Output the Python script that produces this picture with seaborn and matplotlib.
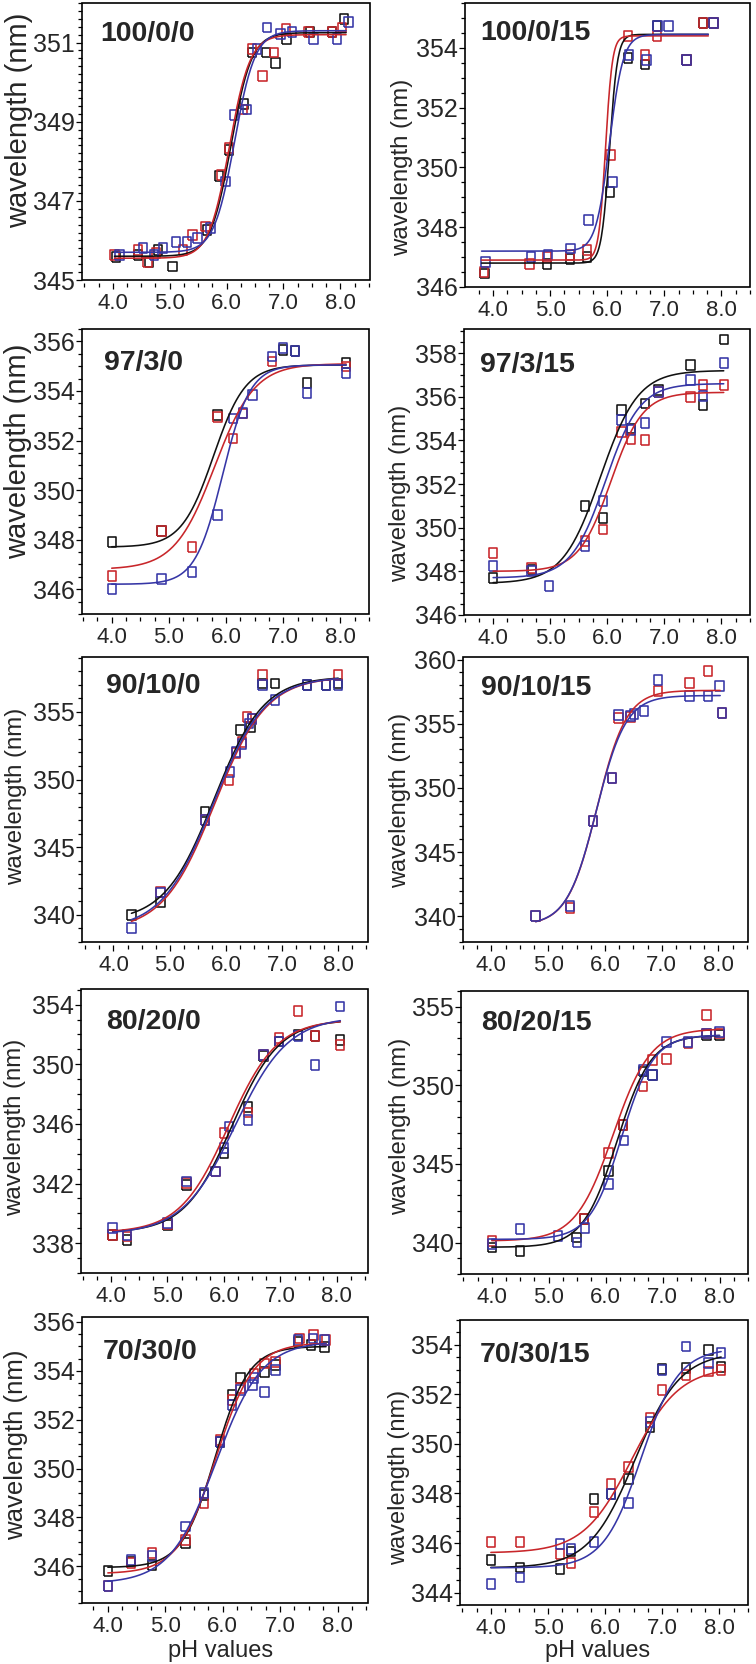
import numpy as np
import seaborn as sns
import matplotlib.pyplot as plt
from matplotlib.patches import Rectangle
from matplotlib.ticker import MultipleLocator, FormatStrFormatter

# ---- data (pH, emission maximum in nm) ----
# fit parameters per series: (bottom, top, pKa, slope)

# 100/0/0
p100_0_0_k_ph = [4.06, 4.44, 4.64, 4.79, 5.05, 5.66, 5.87, 6.04, 6.31, 6.45, 6.69, 6.86, 7.05, 7.47, 7.85, 8.06]
p100_0_0_k_nm = [345.59, 345.63, 345.46, 345.76, 345.34, 346.27, 347.62, 348.28, 349.44, 350.75, 350.75, 350.49, 351.09, 351.26, 351.26, 351.60]
p100_0_0_r_ph = [4.03, 4.44, 4.61, 4.76, 5.23, 5.40, 5.63, 5.90, 6.04, 6.28, 6.45, 6.63, 6.83, 7.04, 7.44, 7.85, 8.03]
p100_0_0_r_nm = [345.63, 345.76, 345.46, 345.68, 345.76, 346.14, 346.35, 347.66, 348.34, 349.31, 350.83, 350.16, 350.75, 351.34, 351.26, 351.26, 351.38]
p100_0_0_b_ph = [4.12, 4.53, 4.73, 4.88, 5.11, 5.31, 5.49, 5.72, 5.98, 6.13, 6.36, 6.54, 6.71, 6.95, 7.15, 7.53, 7.94, 8.14]
p100_0_0_b_nm = [345.63, 345.80, 345.63, 345.80, 345.97, 345.97, 346.06, 346.31, 347.49, 349.18, 349.31, 350.83, 351.38, 351.21, 351.26, 351.09, 351.09, 351.51]
p100_0_0_fit = [(345.6, 351.25, 6.08, 0.18), (345.55, 351.2, 6.05, 0.18), (345.7, 351.3, 6.14, 0.18)]
p100_0_0_span = (4.03, 8.10)

# 100/0/15
p100_0_15_k_ph = [3.85, 4.95, 5.35, 5.65, 6.05, 6.36, 6.66, 6.87, 7.39, 7.68, 7.86]
p100_0_15_k_nm = [346.45, 346.78, 346.95, 347.00, 349.19, 353.66, 353.44, 354.72, 353.60, 354.84, 354.84]
p100_0_15_r_ph = [3.84, 4.64, 4.95, 5.35, 5.65, 6.06, 6.36, 6.66, 6.87, 7.39, 7.68, 7.86]
p100_0_15_r_nm = [346.50, 346.78, 347.00, 347.06, 347.23, 350.42, 354.39, 353.77, 354.39, 353.60, 354.84, 354.84]
p100_0_15_b_ph = [3.87, 4.66, 4.96, 5.36, 5.67, 6.09, 6.38, 6.69, 6.88, 7.07, 7.39, 7.86]
p100_0_15_b_nm = [346.84, 347.00, 347.06, 347.29, 348.24, 349.52, 353.77, 353.60, 354.72, 354.72, 353.60, 354.84]
p100_0_15_fit = [(346.8, 354.45, 6.04, 0.07), (346.9, 354.4, 5.97, 0.06), (347.2, 354.45, 6.04, 0.12)]
p100_0_15_span = (3.80, 7.77)

# 97/3/0
p97_3_0_k_ph = [4.00, 4.87, 5.85, 7.00, 7.20, 7.41, 8.10]
p97_3_0_k_nm = [347.89, 348.34, 353.03, 355.66, 355.60, 354.31, 355.12]
p97_3_0_r_ph = [4.00, 4.87, 5.40, 5.85, 6.12, 6.30, 6.80, 8.10]
p97_3_0_r_nm = [346.54, 348.34, 347.69, 352.96, 352.08, 353.09, 355.19, 354.99]
p97_3_0_b_ph = [4.00, 4.87, 5.40, 5.85, 6.12, 6.30, 6.46, 6.80, 7.00, 7.20, 7.41, 8.10]
p97_3_0_b_nm = [346.00, 346.41, 346.68, 349.01, 352.89, 353.12, 353.84, 355.39, 355.73, 355.60, 353.93, 354.74]
p97_3_0_fit = [(347.7, 355.05, 5.78, 0.28), (346.8, 355.1, 5.80, 0.35), (346.2, 355.05, 5.94, 0.24)]
p97_3_0_span = (4.00, 8.10)

# 97/3/15
p97_3_15_k_ph = [4.00, 4.68, 5.61, 5.92, 6.25, 6.42, 6.66, 6.90, 7.46, 7.68, 8.04]
p97_3_15_k_nm = [347.69, 348.08, 351.00, 350.46, 355.38, 354.54, 355.69, 356.31, 357.46, 355.62, 358.62]
p97_3_15_r_ph = [4.00, 4.67, 5.61, 5.92, 6.25, 6.42, 6.66, 6.90, 7.46, 7.68, 8.04]
p97_3_15_r_nm = [348.85, 348.15, 349.38, 349.92, 354.38, 354.08, 354.00, 356.23, 356.00, 356.54, 356.54]
p97_3_15_b_ph = [4.00, 4.67, 4.98, 5.61, 5.92, 6.25, 6.42, 6.66, 6.90, 7.46, 7.68, 8.04]
p97_3_15_b_nm = [348.23, 348.03, 347.31, 349.15, 351.23, 354.92, 354.46, 354.80, 356.23, 356.77, 356.03, 357.54]
p97_3_15_fit = [(347.45, 357.2, 5.88, 0.33), (348.0, 356.2, 6.06, 0.28), (347.7, 356.6, 5.97, 0.30)]
p97_3_15_span = (4.00, 8.04)

# 90/10/0
p90_10_0_k_ph = [4.32, 4.84, 5.63, 6.26, 6.44, 6.65, 6.88, 7.44, 7.78, 8.00]
p90_10_0_k_nm = [340.00, 340.98, 347.62, 353.65, 353.90, 357.09, 357.09, 356.97, 356.97, 357.09]
p90_10_0_r_ph = [4.84, 5.63, 6.06, 6.18, 6.29, 6.38, 6.47, 6.65, 8.00]
p90_10_0_r_nm = [341.72, 347.00, 349.96, 351.93, 352.79, 354.63, 354.50, 357.70, 357.70]
p90_10_0_b_ph = [4.32, 4.84, 5.63, 6.07, 6.18, 6.29, 6.41, 6.47, 6.65, 6.88, 7.44, 7.78, 8.00]
p90_10_0_b_nm = [339.02, 341.65, 347.00, 350.57, 352.05, 352.61, 354.14, 354.50, 356.97, 355.86, 356.97, 356.97, 356.97]
p90_10_0_fit = [(339.5, 357.6, 5.79, 0.44), (338.8, 357.6, 5.80, 0.46), (338.9, 357.6, 5.78, 0.46)]
p90_10_0_span = (4.32, 8.00)

# 90/10/15 (no black series)
p90_10_15_k_ph = []
p90_10_15_k_nm = []
p90_10_15_r_ph = [4.78, 5.39, 5.79, 6.13, 6.24, 6.45, 6.94, 7.49, 7.82, 8.06]
p90_10_15_r_nm = [340.00, 340.65, 347.40, 350.78, 355.45, 355.50, 357.53, 358.18, 359.09, 355.84]
p90_10_15_b_ph = [4.78, 5.39, 5.79, 6.13, 6.24, 6.45, 6.51, 6.69, 6.94, 7.49, 7.82, 8.02, 8.06]
p90_10_15_b_nm = [340.00, 340.78, 347.40, 350.78, 355.66, 355.58, 355.77, 355.97, 358.44, 357.14, 357.14, 357.92, 355.84]
p90_10_15_fit = [None, (339.3, 357.6, 5.86, 0.26), (339.3, 357.2, 5.85, 0.26)]
p90_10_15_span = (4.78, 8.03)

# 80/20/0
p80_20_0_k_ph = [4.03, 4.28, 5.00, 5.34, 6.00, 6.43, 6.70, 6.98, 7.31, 7.61, 8.06]
p80_20_0_k_nm = [338.56, 338.22, 339.23, 341.92, 344.04, 347.13, 350.57, 351.53, 351.98, 351.87, 351.65]
p80_20_0_r_ph = [4.03, 4.28, 5.00, 5.34, 5.85, 6.00, 6.43, 6.70, 6.98, 7.31, 7.61, 8.06]
p80_20_0_r_nm = [338.56, 338.45, 339.30, 342.03, 342.81, 345.38, 346.77, 350.64, 351.76, 353.55, 351.87, 351.31]
p80_20_0_b_ph = [4.03, 4.28, 5.00, 5.34, 5.85, 6.00, 6.09, 6.43, 6.70, 6.98, 7.31, 7.61, 8.06]
p80_20_0_b_nm = [339.01, 338.56, 339.34, 342.14, 342.81, 344.38, 345.83, 346.28, 350.64, 351.53, 351.87, 349.97, 353.88]
p80_20_0_fit = [(338.7, 353.0, 6.14, 0.42), (338.7, 353.0, 6.08, 0.43), (338.6, 353.2, 6.20, 0.47)]
p80_20_0_span = (4.03, 8.06)

# 80/20/15
p80_20_15_k_ph = [4.00, 4.50, 5.49, 5.62, 6.05, 6.31, 6.66, 6.82, 7.77, 8.00]
p80_20_15_k_nm = [339.68, 339.47, 340.32, 341.48, 344.54, 347.50, 350.88, 350.67, 353.20, 353.20]
p80_20_15_r_ph = [4.00, 5.62, 6.05, 6.31, 6.66, 6.82, 7.07, 7.45, 7.77, 7.77, 8.00]
p80_20_15_r_nm = [340.11, 341.48, 345.70, 347.50, 349.93, 351.62, 351.68, 352.68, 354.47, 353.30, 353.30]
p80_20_15_b_ph = [4.00, 4.50, 5.16, 5.50, 5.64, 6.05, 6.32, 6.66, 6.82, 7.07, 7.45, 7.77, 8.00]
p80_20_15_b_nm = [339.89, 340.85, 340.42, 340.00, 340.95, 343.70, 346.49, 350.99, 350.67, 352.78, 352.78, 353.30, 353.37]
p80_20_15_fit = [(339.7, 353.2, 6.20, 0.30), (340.1, 353.6, 6.13, 0.33), (340.2, 353.2, 6.28, 0.28)]
p80_20_15_span = (4.00, 8.00)

# 70/30/0
p70_30_0_k_ph = [4.00, 4.40, 4.77, 5.35, 5.67, 5.95, 6.16, 6.31, 6.73, 6.92, 7.31, 7.54, 7.77]
p70_30_0_k_nm = [345.80, 346.20, 346.07, 346.95, 348.93, 351.10, 353.00, 353.69, 353.96, 354.23, 355.18, 355.05, 354.98]
p70_30_0_r_ph = [4.00, 4.40, 4.77, 5.35, 5.67, 5.95, 6.16, 6.31, 6.54, 6.73, 6.92, 7.34, 7.58, 7.80]
p70_30_0_r_nm = [345.18, 346.14, 346.54, 347.09, 348.59, 351.17, 352.80, 353.28, 353.89, 354.30, 354.37, 355.32, 355.46, 355.25]
p70_30_0_b_ph = [4.00, 4.40, 4.77, 5.35, 5.67, 5.95, 6.16, 6.31, 6.52, 6.54, 6.73, 6.92, 7.31, 7.57, 7.77]
p70_30_0_b_nm = [345.18, 346.27, 346.41, 347.63, 349.00, 351.10, 352.60, 353.21, 353.41, 353.69, 353.14, 354.03, 355.25, 355.32, 355.25]
p70_30_0_fit = [(345.95, 355.0, 5.87, 0.29), (345.7, 355.15, 5.88, 0.33), (345.3, 355.2, 5.88, 0.40)]
p70_30_0_span = (4.00, 7.80)

# 70/30/15
p70_30_15_k_ph = [4.00, 4.51, 5.21, 5.40, 5.80, 6.10, 6.41, 6.79, 7.00, 7.42, 7.81, 8.03]
p70_30_15_k_nm = [345.31, 345.01, 344.95, 345.66, 347.78, 347.99, 348.59, 350.69, 353.01, 353.05, 353.80, 353.12]
p70_30_15_r_ph = [4.00, 4.51, 5.21, 5.40, 5.80, 6.10, 6.41, 6.79, 7.00, 7.42, 7.81, 8.03]
p70_30_15_r_nm = [346.03, 346.03, 345.55, 345.18, 347.24, 348.39, 349.07, 351.03, 352.18, 352.78, 352.92, 352.99]
p70_30_15_b_ph = [4.00, 4.51, 5.21, 5.40, 5.80, 6.10, 6.41, 6.79, 7.00, 7.42, 7.81, 8.03]
p70_30_15_b_nm = [344.34, 344.61, 345.96, 345.76, 346.03, 347.99, 347.61, 350.89, 352.99, 353.93, 353.26, 353.66]
p70_30_15_fit = [(345.0, 353.7, 6.52, 0.40), (345.6, 353.1, 6.46, 0.42), (345.0, 353.85, 6.63, 0.33)]
p70_30_15_span = (4.00, 8.03)

titles = ["100/0/0", "100/0/15", "97/3/0", "97/3/15", "90/10/0",
          "90/10/15", "80/20/0", "80/20/15", "70/30/0", "70/30/15"]
colors = ["#111111", "#c8262a", "#3636a6"]

panels = [
    ([(p100_0_0_k_ph, p100_0_0_k_nm), (p100_0_0_r_ph, p100_0_0_r_nm), (p100_0_0_b_ph, p100_0_0_b_nm)], p100_0_0_fit, p100_0_0_span),
    ([(p100_0_15_k_ph, p100_0_15_k_nm), (p100_0_15_r_ph, p100_0_15_r_nm), (p100_0_15_b_ph, p100_0_15_b_nm)], p100_0_15_fit, p100_0_15_span),
    ([(p97_3_0_k_ph, p97_3_0_k_nm), (p97_3_0_r_ph, p97_3_0_r_nm), (p97_3_0_b_ph, p97_3_0_b_nm)], p97_3_0_fit, p97_3_0_span),
    ([(p97_3_15_k_ph, p97_3_15_k_nm), (p97_3_15_r_ph, p97_3_15_r_nm), (p97_3_15_b_ph, p97_3_15_b_nm)], p97_3_15_fit, p97_3_15_span),
    ([(p90_10_0_k_ph, p90_10_0_k_nm), (p90_10_0_r_ph, p90_10_0_r_nm), (p90_10_0_b_ph, p90_10_0_b_nm)], p90_10_0_fit, p90_10_0_span),
    ([(p90_10_15_k_ph, p90_10_15_k_nm), (p90_10_15_r_ph, p90_10_15_r_nm), (p90_10_15_b_ph, p90_10_15_b_nm)], p90_10_15_fit, p90_10_15_span),
    ([(p80_20_0_k_ph, p80_20_0_k_nm), (p80_20_0_r_ph, p80_20_0_r_nm), (p80_20_0_b_ph, p80_20_0_b_nm)], p80_20_0_fit, p80_20_0_span),
    ([(p80_20_15_k_ph, p80_20_15_k_nm), (p80_20_15_r_ph, p80_20_15_r_nm), (p80_20_15_b_ph, p80_20_15_b_nm)], p80_20_15_fit, p80_20_15_span),
    ([(p70_30_0_k_ph, p70_30_0_k_nm), (p70_30_0_r_ph, p70_30_0_r_nm), (p70_30_0_b_ph, p70_30_0_b_nm)], p70_30_0_fit, p70_30_0_span),
    ([(p70_30_15_k_ph, p70_30_15_k_nm), (p70_30_15_r_ph, p70_30_15_r_nm), (p70_30_15_b_ph, p70_30_15_b_nm)], p70_30_15_fit, p70_30_15_span),
]

# ---- layout (pixel boxes of the original composite) ----
W, H = 756, 1664
# box (L, T, R, B), xlim, ylim, (major, offset, minor), title xy, ylabel xy, ylabel size
layout = [
    ((82, 3, 370, 280), (3.46, 8.52), (345.0, 352.0), (2, 1, 0.2), (100, 34), (19, 120), 21),
    ((465, 3, 750, 287), (3.51, 8.50), (346.0, 355.5), (2, 0, 0.5), (480, 33), (402, 167), 17.3),
    ((82, 329, 369, 614), (3.48, 8.50), (345.0, 356.5), (2, 0, 0.5), (104, 363), (18, 451), 21),
    ((464, 329, 750, 615), (3.49, 8.50), (346.0, 359.1), (2, 0, 0.5), (480, 365), (400, 493), 17.3),
    ((82, 657, 368, 942), (3.44, 8.53), (338.0, 359.05), (5, 0, 1), (106, 686), (16, 796), 17.3),
    ((463, 657, 748, 942), (3.50, 8.52), (338.0, 360.2), (5, 0, 1), (481, 688), (400, 800), 17),
    ((81, 989, 368, 1273), (3.47, 8.55), (336.0, 355.05), (4, 2, 1), (106, 1022), (15, 1127), 17.3),
    ((461, 991, 748, 1274), (3.46, 8.50), (338.0, 356.0), (5, 0, 1), (481, 1023), (400, 1126), 17.3),
    ((82, 1317, 368, 1603), (3.55, 8.53), (344.5, 356.2), (2, 0, 0.5), (103, 1352), (16, 1445), 18.5),
    ((460, 1320, 748, 1605), (3.46, 8.50), (343.5, 355.0), (2, 0, 0.5), (480, 1355), (399, 1477), 17),
]

sns.set_style("ticks")
plt.rcParams["font.family"] = ["Liberation Sans", "DejaVu Sans"]

box_marker = [(-0.85, -1), (0.85, -1), (0.85, 1), (-0.85, 1), (-0.85, -1)]

fig = plt.figure(figsize=(W / 100, H / 100), dpi=100)

for title, (series, fits, span), cfg in zip(titles, panels, layout):
    (L, T, R, B), xlim, ylim, (major, off, minor), tpos, lpos, lsize = cfg
    ax = fig.add_axes([L / W, 1 - B / H, (R - L) / W, (B - T) / H])

    for (ph, nm), col in zip(series, colors):
        if len(ph):
            sns.scatterplot(x=ph, y=nm, marker=box_marker, s=50, color=col,
                            facecolor="none", edgecolor=col, linewidth=1.15,
                            ax=ax, zorder=2)

    xs = np.linspace(span[0], span[1], 300)
    for fit, col in zip(fits, colors):
        if fit is None:
            continue
        bottom, top, pka, slope = fit
        ys = bottom + (top - bottom) / (1 + np.exp((pka - xs) / slope))
        sns.lineplot(x=xs, y=ys, color=col, lw=1.15, estimator=None, ax=ax, zorder=3)

    ax.set_xlim(*xlim)
    ax.set_ylim(*ylim)
    ax.set_xlabel("")
    ax.set_ylabel("")

    ax.xaxis.set_major_locator(MultipleLocator(1))
    ax.xaxis.set_minor_locator(MultipleLocator(0.25))
    ax.xaxis.set_major_formatter(FormatStrFormatter("%.1f"))
    ax.yaxis.set_major_locator(MultipleLocator(major, offset=off))
    ax.yaxis.set_minor_locator(MultipleLocator(minor))

    for s in ax.spines.values():
        s.set_color("none")
    ax.spines["bottom"].set_position(("outward", 2.5))
    ax.add_patch(Rectangle((0, 0), 1, 1, transform=ax.transAxes, fill=False,
                           ec="black", lw=1.2, clip_on=False, zorder=5))

    ax.tick_params(which="major", direction="out", length=4.3, width=0.9, color="black")
    ax.tick_params(which="minor", direction="out", length=2.6, width=0.9, color="black")
    ax.tick_params(axis="x", which="major", labelsize=16, pad=2.5)
    ax.tick_params(axis="y", which="major", labelsize=18, pad=1)

    fig.text(tpos[0] / W, 1 - tpos[1] / H, title, fontsize=20.5, fontweight="bold",
             ha="left", va="center")
    fig.text(lpos[0] / W, 1 - lpos[1] / H, "wavelength (nm)", fontsize=lsize,
             rotation=90, ha="center", va="center")

fig.text(221 / W, 1 - 1651 / H, "pH values", fontsize=17, ha="center", va="center")
fig.text(598 / W, 1 - 1651 / H, "pH values", fontsize=17, ha="center", va="center")

fig.savefig("out.png", dpi=100)
